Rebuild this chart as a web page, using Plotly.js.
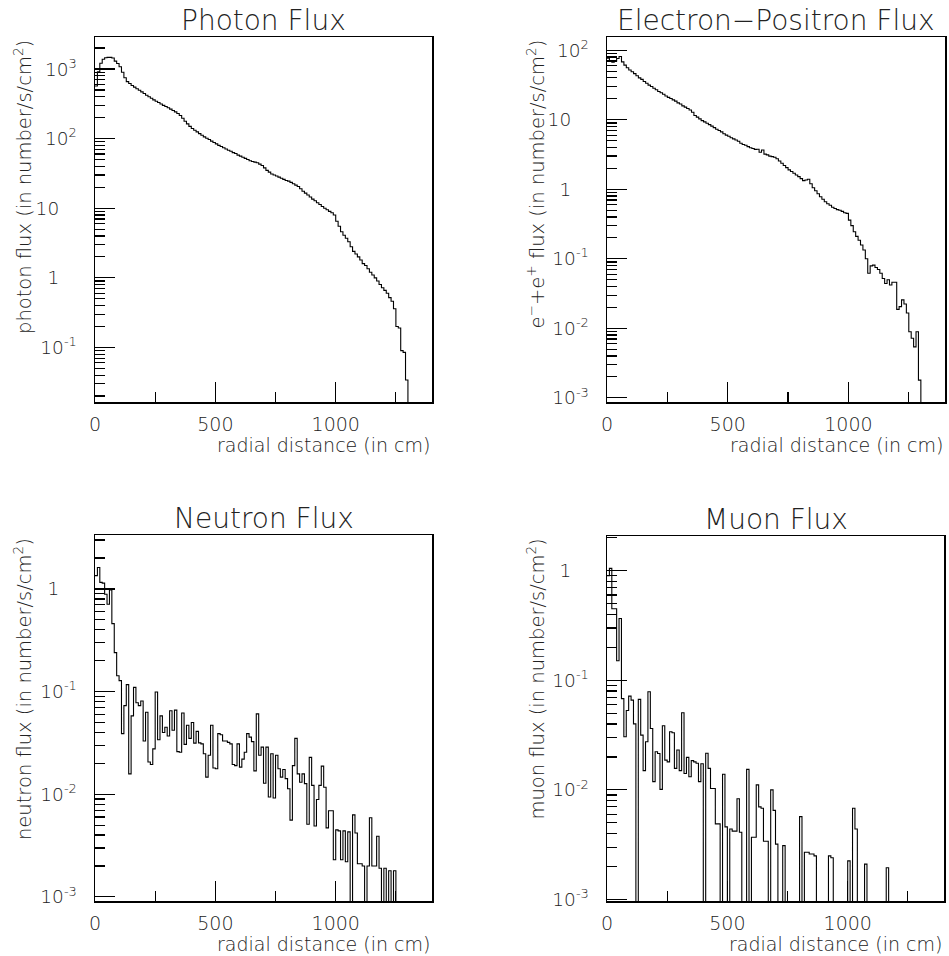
<!DOCTYPE html>
<html>
<head>
<meta charset="utf-8">
<script src="https://cdn.plot.ly/plotly-3.0.1.min.js"></script>
<style>
  html, body { margin: 0; padding: 0; background: #ffffff; }
  #chart { width: 949px; height: 956px; }
</style>
</head>
<body>
<div id="chart"></div>
<script>
// ---- data (flux per 10 cm radial bin, starting at 0 cm) ----
const binWidth = 10; // cm

const photonFlux = [
  570, 910, 1210, 1380, 1450, 1470, 1470, 1440, 1300, 1200,
  1080, 900, 750, 660, 620, 580, 550, 520, 495, 470,
  445, 420, 400, 380, 360, 345, 330, 315, 300, 290,
  278, 265, 253, 242, 230, 215, 196, 178, 163, 150,
  140, 132, 125, 118, 112, 106, 101, 97, 92, 88,
  84, 80, 77, 74, 71, 68, 66, 63, 61, 58,
  56, 54, 52, 50, 48, 47, 46, 45, 43, 41,
  38, 35, 33, 31, 30, 29, 28, 27, 26, 25,
  24.5, 23.5, 22.5, 21.5, 20.5, 19, 17.5, 16.5, 15.5, 14.5,
  13.5, 12.8, 12, 11.3, 10.6, 10, 9.5, 9, 8.6, 8.0,
  6.5, 5.5, 4.6, 4.1, 3.7, 3.3, 2.8, 2.4, 2.2, 2.0,
  1.8, 1.6, 1.5, 1.35, 1.2, 1.1, 1.0, 0.9, 0.8, 0.72,
  0.66, 0.6, 0.52, 0.46, 0.36, 0.2, 0.19, 0.09, 0.085, 0.034
];

const electronFlux = [
  77, 71, 67, 70, 76, 81, 68, 61, 56, 52,
  49, 46, 43, 40, 38, 35.5, 33.5, 31.5, 30, 28.4,
  27, 25.5, 24.5, 23.2, 22, 21, 20.2, 19.3, 18.5, 17.5,
  16.8, 15.8, 15.2, 14.5, 13.8, 12.8, 11.5, 10.9, 10.3, 9.7,
  9.3, 8.9, 8.5, 8.1, 7.7, 7.3, 7.0, 6.7, 6.3, 6.0,
  5.8, 5.5, 5.3, 5.1, 4.9, 4.6, 4.4, 4.3, 4.1, 3.95,
  3.85, 3.75, 3.76, 3.4, 3.67, 3.2, 3.12, 3.0, 2.95, 2.88,
  2.75, 2.55, 2.37, 2.2, 2.05, 1.9, 1.8, 1.7, 1.6, 1.52,
  1.42, 1.33, 1.36, 1.39, 1.2, 1.05, 0.95, 0.86, 0.78, 0.72,
  0.66, 0.62, 0.59, 0.55, 0.53, 0.51, 0.5, 0.48, 0.46, 0.45,
  0.36, 0.3, 0.245, 0.21, 0.185, 0.158, 0.134, 0.10, 0.062, 0.079,
  0.081, 0.075, 0.07, 0.062, 0.052, 0.044, 0.05, 0.042, 0.046, 0.046,
  0.0187, 0.0205, 0.0256, 0.0224, 0.0166, 0.0089, 0.0072, 0.0054, 0.0089, 0.0018
];

const neutronFlux = [
  1.35, 1.62, 1.16, 1.14, 0.89, 0.71, 0.98, 0.46, 0.24, 0.143,
  0.128, 0.039, 0.073, 0.117, 0.0158, 0.058, 0.11, 0.078, 0.073, 0.081,
  0.033, 0.063, 0.0206, 0.0195, 0.0277, 0.099, 0.034, 0.058, 0.040, 0.045,
  0.037, 0.065, 0.042, 0.066, 0.026, 0.0257, 0.062, 0.0306, 0.047, 0.035,
  0.050, 0.0315, 0.041, 0.0317, 0.031, 0.0248, 0.0147, 0.024, 0.047, 0.018,
  0.0177, 0.039, 0.038, 0.033, 0.033, 0.032, 0.031, 0.0195, 0.019, 0.031,
  0.0184, 0.022, 0.0257, 0.039, 0.036, 0.0326, 0.0169, 0.0607, 0.024, 0.0288,
  0.0128, 0.0288, 0.0094, 0.0248, 0.0092, 0.024, 0.0177, 0.0147, 0.0174, 0.0142,
  0.0113, 0.0056, 0.019, 0.035, 0.0158, 0.0131, 0.0158, 0.0127, 0.0051, 0.0229,
  0.0122, 0.0049, 0.0089, 0.0122, 0.0188, 0.0117, 0.0047, 0.0069, 0.0069, 0.0023,
  0.0045, 0.0044, 0.0023, 0.0044, 0.0022, 0.0043, 0, 0.0063, 0.0042, 0.0021,
  0.0021, 0.002, 0, 0.002, 0.0059, 0.002, 0.002, 0.0039, 0.0019, 0,
  0.0019, 0, 0.0018, 0, 0.0018
];

const muonFlux = [
  0.9, 1.05, 0.45, 0.45, 0.151, 0.367, 0.068, 0.0305, 0.053, 0.0718,
  0.066, 0.040, 0, 0.067, 0.0316, 0.015, 0.0275, 0.0787, 0.0363, 0.0119,
  0.0223, 0.0215, 0.0101, 0.0385, 0.0187, 0.018, 0.0339, 0.0332, 0.0157, 0.0231,
  0.015, 0.0506, 0.0141, 0.0198, 0.0132, 0.0185, 0.018, 0.0175, 0.0119, 0.0173,
  0, 0.0216, 0.0157, 0.0103, 0.0103, 0.0049, 0.0049, 0, 0.0139, 0.0046,
  0, 0.0044, 0.0042, 0.0042, 0.0083, 0.0041, 0, 0, 0.0154, 0,
  0.0037, 0.0037, 0.0111, 0.007, 0.0068, 0.0034, 0.0034, 0, 0.01, 0.0065,
  0.0032, 0, 0, 0.0031, 0, 0, 0, 0, 0, 0,
  0.0057, 0, 0.0027, 0.0027, 0.0026, 0.0026, 0.0025, 0, 0, 0,
  0, 0, 0.0025, 0.0024, 0, 0, 0, 0, 0, 0,
  0.00225, 0, 0.0068, 0.0044, 0, 0, 0, 0.0021, 0, 0,
  0, 0, 0, 0, 0, 0, 0.00195
];

const panelTitles = ["Photon Flux", "Electron\u2212Positron Flux", "Neutron Flux", "Muon Flux"];
const yTitles = [
  "photon flux (in number/s/cm<sup>2</sup>)",
  "e<sup>\u2212</sup>+e<sup>+</sup> flux (in number/s/cm<sup>2</sup>)",
  "neutron flux (in number/s/cm<sup>2</sup>)",
  "muon flux (in number/s/cm<sup>2</sup>)"
];
const xTitle = "radial distance (in cm)";
const xTickVals = [0, 500, 1000];
const xTickText = ["0", "500", "1000"];
const xMinorVals = [250, 750, 1250];

const yTickVals = [
  [0.1, 1, 10, 100, 1000],
  [0.001, 0.01, 0.1, 1, 10, 100],
  [0.001, 0.01, 0.1, 1],
  [0.001, 0.01, 0.1, 1]
];
const pad = "\u00a0\u00a0\u00a0";
const yTickText = [
  ["10<sup>-1</sup>", "1" + pad, "10" + pad, "10<sup>2</sup>", "10<sup>3</sup>"],
  ["10<sup>-3</sup>", "10<sup>-2</sup>", "10<sup>-1</sup>", "1" + pad, "10" + pad, "10<sup>2</sup>"],
  ["10<sup>-3</sup>", "10<sup>-2</sup>", "10<sup>-1</sup>", "1" + pad],
  ["10<sup>-3</sup>", "10<sup>-2</sup>", "10<sup>-1</sup>", "1" + pad]
];

// ---- layout geometry (pixels in a 949 x 956 page) ----
const W = 949, H = 956;
const boxes = [
  {l: 95,  r: 432, t: 37,  b: 402, ylog: [-1.784, 3.46]},
  {l: 607, r: 945, t: 37,  b: 402, ylog: [-3.06, 2.19]},
  {l: 95,  r: 432, t: 535, b: 901, ylog: [-3.04, 0.526]},
  {l: 607, r: 944, t: 536, b: 901, ylog: [-3.014, 0.317]}
];
const series = [photonFlux, electronFlux, neutronFlux, muonFlux];

const FONT = "DejaVu Sans";
const WEIGHT = 200;
const TXT = "#222";

function minorLogTicks(lo, hi) {
  const out = [];
  for (let d = Math.floor(lo); d <= Math.ceil(hi); d++) {
    for (let k = 2; k <= 9; k++) {
      const v = k * Math.pow(10, d);
      const lv = Math.log10(v);
      if (lv > lo && lv < hi) out.push(v);
    }
  }
  return out;
}

function stepTrace(vals, xa, ya) {
  const floorVal = 1e-7; // empty bins drop below the axis
  const x = [], y = [];
  vals.forEach((v, i) => { x.push(i * binWidth); y.push(v > 0 ? v : floorVal); });
  x.push(vals.length * binWidth); y.push(floorVal);
  return {
    x, y, type: "scatter", mode: "lines",
    line: {shape: "hv", color: "#000", width: 1.1},
    xaxis: xa, yaxis: ya, hoverinfo: "skip", showlegend: false
  };
}

const traces = [];
const layout = {
  width: W, height: H,
  margin: {l: 0, r: 0, t: 0, b: 0},
  paper_bgcolor: "#fff", plot_bgcolor: "#fff",
  showlegend: false,
  font: {family: FONT, color: TXT, size: 18, weight: WEIGHT},
  annotations: []
};

boxes.forEach((bx, i) => {
  const n = i + 1;
  const xa = "x" + (n === 1 ? "" : n), ya = "y" + (n === 1 ? "" : n);
  const xKey = "xaxis" + (n === 1 ? "" : n), yKey = "yaxis" + (n === 1 ? "" : n);
  traces.push(stepTrace(series[i], xa, ya));
  layout[xKey] = {
    domain: [bx.l / W, bx.r / W], anchor: ya,
    range: [0, 1400], showgrid: false, zeroline: false,
    showline: true, linecolor: "#000", linewidth: 1.5, mirror: true,
    ticks: "inside", ticklen: 20, tickwidth: 1.2, tickcolor: "#000",
    tickmode: "array", tickvals: xTickVals, ticktext: xTickText,
    minor: {tickmode: "array", tickvals: xMinorVals, ticks: "inside", ticklen: 10,
            tickwidth: 1.2, tickcolor: "#000", showgrid: false},
    tickfont: {family: FONT, size: 19, color: TXT, weight: WEIGHT},
    ticklabelstandoff: 5, fixedrange: true
  };
  layout[yKey] = {
    domain: [1 - bx.b / H, 1 - bx.t / H], anchor: xa,
    type: "log", range: bx.ylog, showgrid: false, zeroline: false,
    showline: true, linecolor: "#000", linewidth: 1.5, mirror: true,
    ticks: "inside", ticklen: 20, tickwidth: 1.2, tickcolor: "#000",
    tickmode: "array", tickvals: yTickVals[i], ticktext: yTickText[i],
    minor: {tickmode: "array", tickvals: minorLogTicks(bx.ylog[0], bx.ylog[1]),
            ticks: "inside", ticklen: 10, tickwidth: 1.2, tickcolor: "#000", showgrid: false},
    tickfont: {family: FONT, size: 18.5, color: TXT, weight: WEIGHT},
    ticklabelstandoff: 13, fixedrange: true
  };
  // panel title
  layout.annotations.push({
    xref: "paper", yref: "paper", x: (bx.l + bx.r) / 2 / W, y: 1 - (bx.t - 17) / H,
    xanchor: "center", yanchor: "middle", showarrow: false,
    text: panelTitles[i], font: {family: FONT, size: 28, color: TXT, weight: WEIGHT}
  });
  // y axis title (rotated, aligned to top of the frame)
  layout.annotations.push({
    xref: "paper", yref: "paper", x: (bx.l - 72) / W, y: 1 - (bx.t + 1) / H,
    xanchor: "center", yanchor: "top", textangle: -90, showarrow: false,
    text: yTitles[i], font: {family: FONT, size: 19.5, color: TXT, weight: WEIGHT}
  });
  // x axis title (right aligned to frame)
  layout.annotations.push({
    xref: "paper", yref: "paper", x: bx.r / W, y: 1 - (bx.b + 43) / H,
    xanchor: "right", yanchor: "middle", showarrow: false,
    text: xTitle, font: {family: FONT, size: 19, color: TXT, weight: WEIGHT}
  });
});

Plotly.newPlot("chart", traces, layout, {staticPlot: true, displayModeBar: false});
</script>
</body>
</html>
